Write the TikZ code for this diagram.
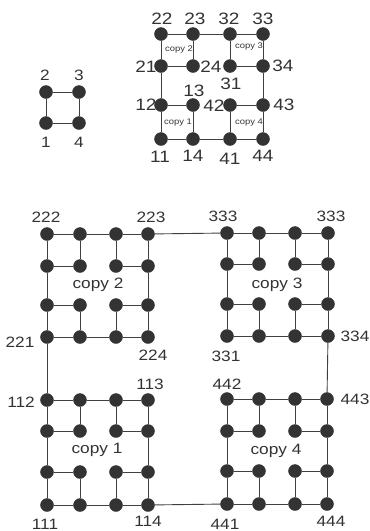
\documentclass[tikz,border=0pt]{standalone}
\usepackage{fontspec}
\setmainfont[FakeStretch=1.15]{Liberation Sans}
\definecolor{dotc}{HTML}{333333}
\definecolor{linec}{HTML}{404040}
\definecolor{txtc}{HTML}{333333}
\begin{document}
\begin{tikzpicture}[x=1pt,y=-1pt,
  dot/.style={circle,fill=dotc,draw=dotc,inner sep=0pt,minimum size=13pt},
  edge/.style={draw=linec,line width=0.9pt},
  lbl/.style={text=txtc,inner sep=0pt,font=\fontsize{15}{15}\selectfont},
  mlbl/.style={lbl,font=\fontsize{16.5}{16.5}\selectfont},
  slbl/.style={lbl,font=\fontsize{15}{15}\selectfont},
  cplbl/.style={lbl,font=\fontsize{15}{15}\selectfont},
  mcplbl/.style={lbl,font=\fontsize{8.2}{8.2}\selectfont}]
\useasboundingbox (0,0) rectangle (370,531);

% small square
\node[dot] (s-2) at (46,92) {};
\node[dot] (s-3) at (79,92) {};
\node[dot] (s-1) at (46,123) {};
\node[dot] (s-4) at (79,123) {};
\draw[edge] (s-2)--(s-3)--(s-4)--(s-1)--(s-2);
\node[slbl] (ls2) at (45,75) {2};
\node[slbl] (ls3) at (79,75) {3};
\node[slbl] (ls1) at (46,142) {1};
\node[slbl] (ls4) at (79,142) {4};

% middle grid and big grid nodes
\foreach \p/\xs/\ys in {m/{161,193,230,263}/{34,66,105,139},
                        c2/{47,80,116,148}/{234,266,305,337},
                        c3/{227,259,295,328}/{233,264,304,336},
                        c1/{47,80,116,148}/{400,431,472,505},
                        c4/{227,259,295,327}/{399,431,471,504}}{
  \foreach \x [count=\i] in \xs {
    \foreach \y [count=\j] in \ys {
      \node[dot] (\p-\i-\j) at (\x,\y) {};
    }
  }
}

% edges inside each 4x4 block
\foreach \p in {m,c1,c2,c3,c4}{
  \draw[edge] (\p-1-1)--(\p-2-1)--(\p-3-1)--(\p-4-1);
  \draw[edge] (\p-1-4)--(\p-2-4)--(\p-3-4)--(\p-4-4);
  \draw[edge] (\p-1-1)--(\p-1-2)--(\p-1-3)--(\p-1-4);
  \draw[edge] (\p-4-1)--(\p-4-2)--(\p-4-3)--(\p-4-4);
  \draw[edge] (\p-1-2)--(\p-2-2)--(\p-2-1);
  \draw[edge] (\p-3-1)--(\p-3-2)--(\p-4-2);
  \draw[edge] (\p-1-3)--(\p-2-3)--(\p-2-4);
  \draw[edge] (\p-3-4)--(\p-3-3)--(\p-4-3);
}
% links between copies
\draw[edge] (c2-4-1)--(c3-1-1);
\draw[edge] (c2-1-4)--(c1-1-1);
\draw[edge] (c3-4-4)--(c4-4-1);
\draw[edge] (c1-4-4)--(c4-1-4);

% middle grid labels
\node[mlbl] (l22) at (162,19) {22};
\node[mlbl] (l23) at (195,19) {23};
\node[mlbl] (l32) at (229,19) {32};
\node[mlbl] (l33) at (263,19) {33};
\node[mlbl] (l21) at (146,67) {21};
\node[mlbl] (l24) at (211,67) {24};
\node[mlbl] (l31) at (231,84) {31};
\node[mlbl] (l34) at (283,66) {34};
\node[mlbl] (l12) at (146,105) {12};
\node[mlbl] (l13) at (194,91) {13};
\node[mlbl] (l42) at (214,106) {42};
\node[mlbl] (l43) at (284,105) {43};
\node[mlbl] (l11) at (160,157) {11};
\node[mlbl] (l14) at (193,156) {14};
\node[mlbl] (l41) at (230,159) {41};
\node[mlbl] (l44) at (263,156) {44};
\node[mcplbl] (mc2) at (179,49) {copy 2};
\node[mcplbl] (mc3) at (249,46) {copy 3};
\node[mcplbl] (mc1) at (178,123) {copy 1};
\node[mcplbl] (mc4) at (249,123) {copy 4};

% big grid labels
\node[lbl] (l222) at (46,217) {222};
\node[lbl] (l223) at (151,217) {223};
\node[lbl] (l333a) at (223,216) {333};
\node[lbl] (l333b) at (331,216) {333};
\node[lbl] (l221) at (20,342) {221};
\node[lbl] (l224) at (153,355) {224};
\node[lbl] (l331) at (226,356) {331};
\node[lbl] (l334) at (355,336) {334};
\node[lbl] (l112) at (21,402) {112};
\node[lbl] (l113) at (150,384) {113};
\node[lbl] (l442) at (227,384) {442};
\node[lbl] (l443) at (355,399) {443};
\node[lbl] (l111) at (45,524) {111};
\node[lbl] (l114) at (148,521) {114};
\node[lbl] (l441) at (225,524) {441};
\node[lbl] (l444) at (331,521) {444};
\node[cplbl] (cp2) at (98,285) {copy 2};
\node[cplbl] (cp3) at (277,285) {copy 3};
\node[cplbl] (cp1) at (97,450) {copy 1};
\node[cplbl] (cp4) at (276,451) {copy 4};
\end{tikzpicture}
\end{document}
